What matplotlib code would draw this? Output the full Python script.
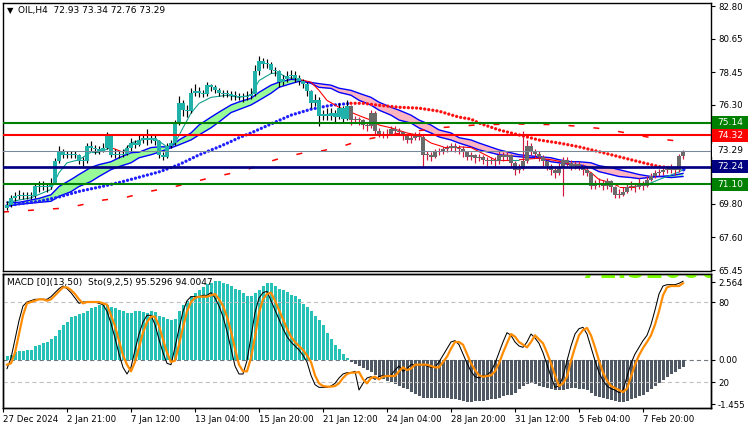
import numpy as np
import matplotlib
matplotlib.use("Agg")
import matplotlib.pyplot as plt
from matplotlib.patches import Rectangle
from matplotlib.collections import LineCollection
import matplotlib.transforms as mtransforms

plt.rcParams['font.family'] = ['DejaVu Sans']
plt.rcParams['lines.scale_dashes'] = False
FS = 6.2

# ---------------- data ----------------
symbol_title = "OIL,H4  72.93 73.34 72.76 73.29"
sub_title = "MACD [0](13,50)  Sto(9,2,5) 95.5296 94.0047"
watermark = "71.52000"

first_open = 69.5
closes = [
    69.7, 70.2, 70.3, 70.4, 70.3, 70.4, 70.3, 71.0, 70.9, 71.0,
    70.9, 71.2, 72.6, 73.3, 73.0, 73.0, 73.1, 73.0, 72.6, 72.6,
    73.6, 73.5, 73.4, 73.3, 73.5, 74.3, 73.0, 73.0, 73.0, 73.1,
    73.5, 73.8, 73.7, 74.0, 74.1, 74.0, 74.1, 73.9, 73.0, 72.9,
    73.6, 73.8, 75.2, 76.4, 76.0, 75.9, 77.1, 77.2, 77.1, 77.0,
    77.6, 77.5, 77.3, 77.1, 77.0, 77.0, 76.9, 76.9, 76.8, 76.8,
    76.9, 77.0, 78.5, 79.2, 79.0, 79.0, 78.6, 78.5, 77.8, 78.0,
    78.2, 78.3, 78.1, 77.9, 77.7, 77.2, 76.4, 76.6, 75.6, 75.7,
    75.6, 75.8, 75.5, 76.1, 75.4, 76.2, 75.3, 75.3, 75.3, 75.0,
    74.9, 75.8, 74.6, 74.4, 74.3, 74.4, 74.7, 74.6, 74.5, 74.3,
    74.0, 74.1, 74.3, 74.2, 73.0, 73.0, 72.9, 73.2, 73.3, 73.4,
    73.5, 73.6, 73.5, 73.4, 73.2, 72.9, 73.0, 72.8, 72.9, 72.7,
    72.6, 72.7, 72.6, 73.0, 72.9, 73.0, 72.5, 72.0, 72.1, 72.6,
    73.6, 73.3, 73.1, 72.9, 72.6, 72.3, 72.0, 71.8, 72.2, 72.7,
    72.5, 72.3, 72.4, 72.3, 72.0, 71.8, 71.0, 71.1, 71.2, 71.0,
    71.3, 70.9, 70.4, 70.4, 70.6, 70.9, 71.0, 70.9, 71.1, 71.0,
    71.4, 71.6, 71.8, 71.9, 72.0, 72.0, 72.2, 72.0, 72.93, 73.29,
]
highs = [
    70.0, 70.4, 70.6, 70.7, 70.6, 70.6, 70.6, 71.1, 71.3, 71.3,
    71.2, 71.5, 72.8, 73.6, 73.4, 73.3, 73.3, 73.3, 73.1, 72.9,
    73.8, 73.9, 73.7, 73.6, 73.8, 74.5, 74.4, 73.4, 73.3, 73.4,
    73.7, 74.1, 74.0, 74.3, 74.4, 74.7, 74.3, 74.3, 74.0, 73.2,
    73.8, 74.0, 75.3, 76.9, 76.6, 76.3, 77.4, 77.7, 77.5, 77.3,
    77.8, 77.7, 77.6, 77.4, 77.3, 77.3, 77.2, 77.2, 77.1, 77.1,
    77.2, 77.4, 78.9, 79.5, 79.4, 79.3, 79.1, 78.8, 78.6, 78.3,
    78.5, 78.6, 78.5, 78.3, 78.0, 77.8, 77.3, 77.0, 76.8, 76.0,
    76.1, 76.1, 76.0, 76.4, 76.2, 76.6, 76.3, 75.6, 75.5, 75.4,
    75.2, 76.0, 75.9, 74.8, 74.6, 74.7, 74.9, 74.9, 74.8, 74.6,
    74.4, 74.3, 74.5, 74.5, 74.3, 73.3, 73.2, 73.4, 73.5, 73.6,
    73.7, 73.8, 73.8, 73.7, 73.6, 73.3, 73.2, 73.1, 73.1, 73.0,
    72.9, 72.9, 72.9, 73.3, 73.2, 73.2, 73.1, 72.6, 72.4, 74.6,
    74.0, 73.8, 73.4, 73.3, 73.0, 72.7, 72.4, 72.3, 72.5, 72.9,
    72.9, 72.7, 72.6, 72.6, 72.4, 72.2, 71.9, 71.4, 71.5, 71.4,
    71.5, 71.4, 71.0, 70.8, 70.9, 71.1, 71.3, 71.2, 71.5, 71.3,
    71.6, 71.8, 72.0, 72.1, 72.2, 72.3, 72.4, 72.3, 73.1, 73.34,
]
lows = [
    69.4, 69.6, 70.0, 70.1, 70.1, 70.1, 70.1, 70.2, 70.6, 70.7,
    70.6, 70.8, 71.1, 72.5, 72.8, 72.8, 72.8, 72.8, 72.4, 72.3,
    72.5, 73.3, 73.1, 73.1, 73.2, 73.4, 72.9, 72.8, 72.8, 72.9,
    73.0, 73.3, 73.5, 73.6, 73.8, 73.7, 73.8, 73.7, 72.8, 72.7,
    72.8, 73.5, 73.7, 75.0, 75.6, 75.5, 75.8, 76.9, 76.8, 76.8,
    76.9, 77.2, 77.1, 76.9, 76.8, 76.8, 76.6, 76.6, 76.6, 76.5,
    76.6, 76.7, 76.9, 78.3, 78.7, 78.7, 78.4, 78.2, 77.5, 77.6,
    77.8, 78.0, 77.8, 77.6, 77.4, 76.9, 76.1, 76.2, 74.9, 75.3,
    75.3, 75.3, 75.2, 75.4, 75.2, 75.3, 75.0, 75.1, 75.0, 74.7,
    74.6, 74.8, 74.3, 74.2, 74.1, 74.1, 74.3, 74.4, 74.3, 74.0,
    73.8, 73.8, 74.0, 74.0, 72.2, 72.7, 72.6, 72.8, 73.0, 73.1,
    73.2, 73.3, 73.2, 73.1, 72.9, 72.7, 72.7, 72.5, 72.6, 72.4,
    72.3, 72.4, 72.3, 72.4, 72.6, 72.7, 72.2, 71.7, 71.8, 72.0,
    72.5, 73.0, 72.8, 72.6, 72.3, 72.0, 71.7, 71.5, 71.7, 70.3,
    72.2, 72.0, 72.1, 72.0, 71.7, 71.6, 70.8, 70.8, 70.9, 70.7,
    70.8, 70.6, 70.2, 70.2, 70.3, 70.5, 70.7, 70.6, 70.8, 70.7,
    70.9, 71.3, 71.5, 71.6, 71.7, 71.8, 71.8, 71.7, 71.9, 72.76,
]
teal_until = 86  # candles drawn teal before this bar, grey after

macd_hist = [
    0.12, 0.15, 0.25, 0.3, 0.3, 0.32, 0.33, 0.45, 0.5, 0.55,
    0.6, 0.7, 0.8, 1.0, 1.15, 1.25, 1.4, 1.45, 1.5, 1.55,
    1.6, 1.7, 1.75, 1.8, 1.8, 1.8, 1.75, 1.7, 1.65, 1.6,
    1.55, 1.55, 1.6, 1.6, 1.58, 1.55, 1.6, 1.58, 1.45, 1.4,
    1.35, 1.3, 1.35, 1.6, 1.8, 1.95, 2.1, 2.2, 2.3, 2.4,
    2.5, 2.55, 2.6, 2.6, 2.55, 2.5, 2.45, 2.35, 2.3, 2.2,
    2.1, 2.1, 2.2, 2.3, 2.45, 2.55, 2.55, 2.45, 2.35, 2.3,
    2.25, 2.15, 2.1, 2.0, 1.85, 1.75, 1.6, 1.45, 1.3, 1.15,
    0.9, 0.7, 0.5, 0.35, 0.2, 0.08, -0.05, -0.12, -0.2, -0.27,
    -0.33, -0.4, -0.48, -0.55, -0.62, -0.68, -0.73, -0.8, -0.86, -0.92,
    -0.97, -1.05, -1.12, -1.2, -1.25, -1.25, -1.26, -1.25, -1.25, -1.26,
    -1.25, -1.27, -1.3, -1.33, -1.35, -1.37, -1.38, -1.36, -1.35, -1.34,
    -1.33, -1.3, -1.27, -1.25, -1.2, -1.15, -1.15, -1.1, -0.95, -0.87,
    -0.8, -0.77, -0.8, -0.85, -0.88, -0.92, -0.95, -1.0, -1.0, -0.98,
    -0.95, -0.93, -0.93, -0.95, -0.97, -1.0, -1.1, -1.17, -1.22, -1.25,
    -1.3, -1.33, -1.36, -1.38, -1.38, -1.35, -1.3, -1.25, -1.2, -1.15,
    -1.05, -0.95, -0.85, -0.75, -0.65, -0.55, -0.45, -0.38, -0.3, -0.23,
]
stoch_main = [
    30, 38, 52, 66, 77, 80, 81, 82, 82, 82,
    82, 84, 87, 90, 92, 90, 87, 83, 79, 80,
    80, 80, 80, 79, 78, 73, 64, 53, 41, 31,
    26, 31, 44, 56, 65, 70, 70, 63, 52, 42,
    34, 33, 46, 60, 73, 81, 84, 84, 84, 85,
    85, 87, 83, 77, 69, 58, 45, 32, 26, 26,
    36, 54, 72, 83, 87, 88, 81, 74, 67, 60,
    54, 50, 47, 44, 40, 35, 25, 18, 16, 16,
    16, 17, 19, 23, 26, 27, 27, 28, 14, 19,
    23, 24, 22, 24, 25, 24, 25, 29, 32, 28,
    30, 33, 33, 33, 33, 32, 31, 31, 35, 40,
    45, 50, 51, 48, 41, 34, 28, 24, 23, 25,
    25, 28, 34, 42, 50, 57, 55, 50, 47, 46,
    50, 56, 53, 49, 42, 33, 24, 16, 17, 24,
    36, 47, 56, 60, 61, 56, 46, 36, 27, 21,
    17, 15, 14, 12, 14, 24, 34, 41, 46, 51,
    55, 63, 74, 86, 92, 93, 93, 93, 94, 95.53,
]
stoch_signal = [
    33, 34, 42, 56, 70, 79, 80, 81, 82, 82,
    81, 82, 85, 88, 91, 91, 89, 86, 82, 79,
    80, 80, 80, 80, 79, 78, 70, 62, 51, 40,
    33, 28, 35, 46, 57, 65, 69, 69, 62, 52,
    42, 35, 36, 48, 61, 73, 80, 83, 84, 84,
    84, 85, 86, 82, 77, 69, 58, 45, 33, 28,
    28, 38, 54, 72, 82, 86, 87, 81, 74, 67,
    60, 54, 50, 47, 44, 40, 35, 25, 19, 17,
    16.5, 16.5, 17, 19, 23, 26, 27, 27, 27.5, 22,
    19, 23, 24, 22, 24, 24.5, 24.5, 24.5, 28, 31,
    29, 30, 33, 33, 33, 33, 32, 31, 31, 35,
    39, 45, 50, 50, 48, 41, 34, 29, 25, 24,
    24.5, 25, 28, 34, 42, 49, 56, 54, 50, 48,
    46, 50, 55, 52, 49, 42, 34, 25, 17, 19,
    24, 36, 46, 55, 59, 60.5, 55, 46, 36, 27,
    21, 17, 15.5, 14, 12.5, 15, 24, 33, 40, 45.5,
    50, 55, 63, 73, 85, 91, 92, 92, 92, 94.0,
]

# fast MA (thin line), teal while rising regime, red otherwise
fast_x = [0, 6, 11, 13, 15, 18, 21, 23, 26, 29, 31, 35, 37, 40, 42, 44, 46, 48, 51, 55,
          58, 61, 63, 66, 68, 70, 73, 76, 78, 80, 83, 88, 91, 93, 96, 100, 103, 106, 109, 113,
          116, 122, 126, 128, 133, 136, 138, 141, 143, 146, 148, 151, 153, 157, 160, 163, 165, 168, 169]
fast_y = [69.9, 70.2, 70.75, 71.85, 72.5, 72.7, 73.2, 73.2, 73.5, 73.2,
          73.8, 74.1, 74.1, 73.55, 73.8, 74.8, 75.76, 76.4, 76.8, 76.94,
          76.8, 76.94, 77.9, 78.37, 78.4, 78.1, 77.98, 77.8, 77.26, 76.6,
          76.15, 75.6, 75.3, 74.98, 74.8, 74.46, 74.3, 73.8, 73.55, 73.55,
          73.5, 72.7, 72.7, 72.7, 72.8, 72.7, 72.6, 72.4, 72.25, 71.86,
          71.4, 71.2, 70.94, 70.94, 71.07, 71.4, 71.6, 71.9, 72.05]
fast_up_ranges = [(0, 26), (29, 73), (127, 130), (160, 169)]

# MA band (two lines, green fill when a above b, pink otherwise)
band_x = [0, 3, 8, 11, 13, 16, 18, 21, 23, 26, 28, 31, 33, 36, 38, 41, 43, 46, 48, 51,
          53, 56, 58, 61, 63, 66, 68, 71, 73, 76, 78, 81, 83, 86, 88, 91, 93, 96, 98, 101,
          103, 106, 108, 111, 113, 116, 118, 123, 128, 131, 133, 136, 138, 141, 143, 146, 148, 151, 153, 156,
          158, 161, 163, 166, 169]
band_a = [69.9, 69.9, 70.16, 70.4, 70.94, 71.4, 71.73, 72.2, 72.38, 72.57,
          72.83, 73.16, 73.2, 73.5, 73.55, 73.55, 74.0, 74.46, 74.98, 75.5,
          75.83, 76.3, 76.5, 76.74, 77.13, 77.6, 77.8, 77.98, 77.95, 77.72,
          77.46, 77.39, 77.13, 76.94, 76.61, 76.29, 75.96, 75.63, 75.31, 75.11,
          74.79, 74.46, 74.2, 74.0, 73.8, 73.55, 73.35, 73.03, 72.9, 72.83,
          72.83, 72.57, 72.5, 72.38, 72.38, 72.18, 71.92, 71.73, 71.6, 71.53,
          71.46, 71.55, 71.6, 71.66, 71.8]
band_b = [69.65, 69.77, 69.9, 69.97, 70.3, 70.6, 70.94, 71.27, 71.6, 72.05,
          72.25, 72.5, 72.83, 73.03, 73.2, 73.48, 73.68, 74.0, 74.33, 74.8,
          75.18, 75.8, 76.0, 76.3, 76.6, 77.07, 77.46, 77.7, 77.85, 77.78,
          77.7, 77.6, 77.4, 77.26, 77.07, 76.8, 76.48, 76.15, 75.96, 75.63,
          75.31, 74.98, 74.66, 74.46, 74.15, 74.0, 73.8, 73.35, 73.03, 72.95,
          72.9, 72.83, 72.7, 72.57, 72.57, 72.5, 72.31, 72.18, 72.05, 71.86,
          71.73, 71.6, 71.6, 71.53, 71.6]

# dotted MA (blue, then red)
dot_x = [0, 3, 8, 13, 18, 23, 28, 33, 38, 43, 48, 53, 56, 58, 61, 66, 71, 76, 81, 86,
         89, 93, 98, 103, 108, 113, 116, 118, 123, 128, 133, 138, 143, 148, 153, 158, 163, 166, 169]
dot_y = [69.67, 69.8, 69.97, 70.25, 70.62, 70.9, 71.2, 71.55, 71.9, 72.38,
         73.02, 73.55, 73.9, 74.15, 74.46, 75.05, 75.63, 76.02, 76.28, 76.41,
         76.41, 76.28, 76.15, 76.09, 75.89, 75.5, 75.37, 75.11, 74.66, 74.33,
         74.0, 73.8, 73.55, 73.23, 72.9, 72.57, 72.25, 72.18, 72.1]
dot_turn = 86

# long dashed MA (red)
slow_x = [-1, 6, 13, 18, 24, 30, 36, 42, 48, 51, 57, 60, 64, 69, 75, 79, 84, 88, 91, 96,
          100, 108, 118, 128, 138, 145, 150, 154, 157, 162, 167, 169]
slow_y = [69.27, 69.38, 69.5, 69.7, 70.05, 70.25, 70.64, 70.94, 71.33, 71.53,
          71.86, 72.05, 72.45, 72.85, 73.2, 73.3, 73.6, 73.94, 74.1, 74.35,
          74.5, 74.8, 75.0, 75.05, 75.0, 74.85, 74.7, 74.5, 74.35, 74.1,
          73.95, 73.9]

levels = [75.14, 74.32, 73.29, 72.24, 71.10]
level_colors = ['#008000', '#ff0000', '#778899', '#000080', '#008000']
level_widths = [2.0, 2.0, 1.0, 2.6, 2.0]
label_bg = ['#008000', '#ff0000', '#ffffff', '#000080', '#008000']
label_fg = ['white', 'white', 'black', 'white', 'white']

price_ticks = [82.80, 80.65, 78.45, 76.30, 74.15, 71.95, 69.80, 67.60, 65.45]
hidden_ticks = [74.15, 71.95]   # covered by the coloured level labels
date_pos = [-1, 15, 31, 47, 63, 79, 95, 111, 127, 143, 159]
date_labels = ["27 Dec 2024", "2 Jan 21:00", "7 Jan 12:00", "13 Jan 04:00", "15 Jan 20:00",
               "21 Jan 12:00", "24 Jan 04:00", "28 Jan 20:00", "31 Jan 12:00", "5 Feb 04:00",
               "7 Feb 20:00"]
macd_ticks = [2.564, 0.0, -1.455]
macd_tick_labels = ["2.564", "0.00", "-1.455"]
stoch_levels = [80, 20]

# ---------------- figure ----------------
W, H = 750, 430
fig = plt.figure(figsize=(W / 100, H / 100), dpi=100)
fig.patch.set_facecolor('white')


def fx(px):
    return px / W


def fy(py):
    return 1 - py / H


ax = fig.add_axes([fx(3), fy(271), fx(711) - fx(3), fy(3) - fy(271)])
ax2 = fig.add_axes([fx(3), fy(408), fx(711) - fx(3), fy(274) - fy(408)])
ax3 = ax2.twinx()

XL = (-1, 176)
for a in (ax, ax2, ax3):
    a.set_xlim(*XL)
    for s in a.spines.values():
        s.set_linewidth(1.0)
        s.set_color('black')
ax.set_ylim(65.39, 83.0)
ax2.set_ylim(-1.58, 2.83)
ax3.set_ylim(0.5, 101)

n = len(closes)
opens = [first_open] + closes[:-1]
px_per_unit = 268 / (83.0 - 65.39)
one_px = 1.0 / px_per_unit

# --- indicators under candles ---
bx = np.array(band_x, float)
ba = np.array(band_a, float)
bb = np.array(band_b, float)
ax.fill_between(bx, ba, bb, where=ba >= bb, interpolate=True, color='#98fb98', lw=0, zorder=1)
ax.fill_between(bx, ba, bb, where=ba <= bb, interpolate=True, color='#ffb6c1', lw=0, zorder=1)
ax.plot(bx, ba, color='#0000ff', lw=1.0, zorder=2)
ax.plot(bx, bb, color='#0000ff', lw=1.0, zorder=2)

ax.plot(slow_x, slow_y, color='#ff0000', lw=1.1, linestyle=(0, (4.3, 13.7)), zorder=2)

dx = np.array(dot_x, float)
dy = np.array(dot_y, float)
blue_mask = dx <= dot_turn
red_mask = (dx >= dot_turn) & (dx < dot_x[-1])
ax.plot(dx[blue_mask], dy[blue_mask], color='#1f1fff', lw=2.4, linestyle=(0, (0.01, 2.95)),
        dash_capstyle='round', zorder=2)
ax.plot(dx[red_mask], dy[red_mask], color='#ff1010', lw=2.4, linestyle=(0, (0.01, 2.95)),
        dash_capstyle='round', zorder=2)
ax.plot([dot_x[-1]], [dot_y[-1]], 'o', color='#1f1fff', ms=2.8, mew=0, zorder=2)

segs, cols = [], []
for j in range(len(fast_x) - 1):
    mid = 0.5 * (fast_x[j] + fast_x[j + 1])
    up = any(lo <= mid <= hi for lo, hi in fast_up_ranges)
    segs.append([(fast_x[j], fast_y[j]), (fast_x[j + 1], fast_y[j + 1])])
    cols.append('#12a090' if up else '#ff0000')
ax.add_collection(LineCollection(segs, colors=cols, linewidths=0.8, zorder=2))

# --- candles ---
wsegs, wcols = [], []
for i in range(n):
    wsegs.append([(i, lows[i]), (i, highs[i])])
    wcols.append('#000000' if i < teal_until else '#d0143c')
ax.add_collection(LineCollection(wsegs, colors=wcols, linewidths=0.85, zorder=3))
for i in range(n):
    o, c = opens[i], closes[i]
    lo = min(o, c)
    h = max(abs(c - o), one_px)
    col = '#20b2aa' if i < teal_until else '#6a6a6a'
    ax.add_patch(Rectangle((i - 0.38, lo), 0.76, h, facecolor=col, edgecolor='none', zorder=4))

# --- horizontal levels ---
for v, c, w in zip(levels, level_colors, level_widths):
    ax.axhline(v, color=c, lw=w * 0.75, zorder=5)

# --- axes ticks (main) ---
ax.set_xticks([])
ax.yaxis.tick_right()
ax.set_yticks(price_ticks)
ax.set_yticklabels(["" if t in hidden_ticks else f"{t:.2f}" for t in price_ticks])
ax.tick_params(axis='y', right=True, left=False, length=3, width=0.8, pad=2, labelsize=FS,
               colors='black')

# coloured price labels
tr = mtransforms.blended_transform_factory(ax.transAxes, ax.transData)
box_w = 36 / 708
box_h = 13 / px_per_unit
for v, bg, fg in zip(levels, label_bg, label_fg):
    ax.add_patch(Rectangle((1.0 + 1 / 708, v - box_h / 2), box_w, box_h, transform=tr,
                           facecolor=bg, edgecolor='none', clip_on=False, zorder=10))
    ax.text(1.0 + 1 / 708 + box_w / 2, v, f"{v:.2f}", transform=tr, color=fg,
            fontsize=FS + 0.4, ha='center', va='center', clip_on=False, zorder=11)

# title
ax.text(0.005, 0.972, "\u25BC", transform=ax.transAxes, fontsize=6.0, ha='left', va='center')
ax.text(0.021, 0.972, symbol_title, transform=ax.transAxes, fontsize=FS + 0.3, ha='left',
        va='center')

# --- lower panel ---
hist = np.array(macd_hist)
hcol = ['#26c2b8' if v >= 0 else '#4f5865' for v in hist]
ax2.bar(np.arange(n), hist, width=0.75, color=hcol, linewidth=0, zorder=2)
ax2.axhline(0, color='#707880', lw=0.8, linestyle=(0, (3, 2.2)), zorder=1)
for lv in stoch_levels:
    ax3.axhline(lv, color='#c0c0c0', lw=0.8, linestyle=(0, (3, 2.2)), zorder=1)
ax3.plot(np.arange(n), stoch_main, color='black', lw=0.75, zorder=3)
ax3.plot(np.arange(n), stoch_signal, color='#ff8c00', lw=1.6, zorder=4)

# clipped watermark at the top of the sub-window
ax3.text(0.815, 0.968, watermark, transform=ax3.transAxes, fontsize=19, fontweight='bold',
         color='#7cfc00', ha='left', va='baseline', clip_on=True, zorder=0.5)

ax2.set_xticks(date_pos)
ax2.set_xticklabels(date_labels)
for lab in ax2.get_xticklabels():
    lab.set_ha('left')
ax2.tick_params(axis='x', length=3, width=0.8, pad=2, labelsize=FS)
ax2.yaxis.tick_right()
ax2.set_yticks(macd_ticks)
ax2.set_yticklabels(macd_tick_labels)
ax2.tick_params(axis='y', right=True, left=False, length=3, width=0.8, pad=2, labelsize=FS)
ax3.set_yticks(stoch_levels)
ax3.set_yticklabels([str(s) for s in stoch_levels])
ax3.tick_params(axis='y', right=True, length=3, width=0.8, pad=2, labelsize=FS)

ax3.text(0.006, 0.935, sub_title, transform=ax3.transAxes, fontsize=FS + 0.3, ha='left',
         va='center', zorder=6)

fig.savefig("out.png", dpi=100, facecolor='white')
